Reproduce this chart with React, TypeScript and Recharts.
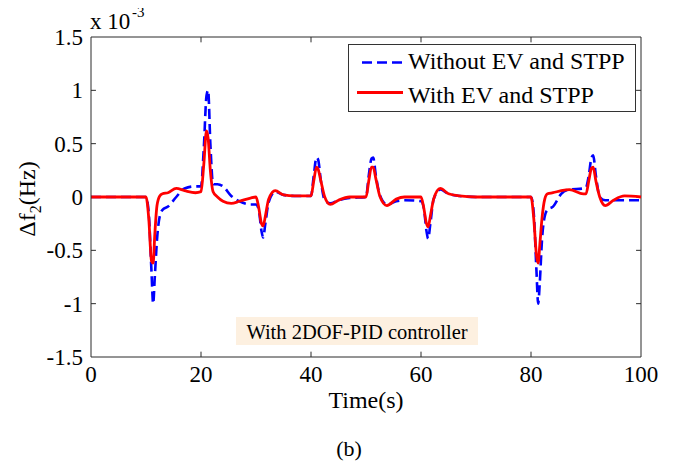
import React from "react";
import { LineChart, Line, XAxis, YAxis, ReferenceLine } from "recharts";

const time = [0, 10, 10.5, 11, 11.3, 11.6, 12, 12.5, 13, 14, 15.5, 17, 19, 20, 20.5, 21, 21.3, 21.7, 22.2, 23, 24, 25.5, 27, 29, 30, 30.5, 31, 31.3, 31.7, 32.3, 33.5, 35, 37, 40, 40.5, 41, 41.3, 41.8, 42.5, 43.5, 45, 47, 50, 50.5, 51, 51.3, 51.8, 52.5, 53.8, 55.5, 57, 60, 60.5, 61, 61.3, 61.7, 62.3, 63.5, 65, 67, 70, 80, 80.5, 81, 81.3, 81.6, 82, 82.5, 83, 84, 85.5, 87, 89.5, 90, 90.5, 91, 91.3, 91.8, 92.5, 93.5, 95, 97, 100];

const withEV = [0, 0, -0.2, -0.6, -0.62, -0.35, -0.08, 0.01, 0.03, 0.04, 0.08, 0.06, 0.04, 0.05, 0.3, 0.62, 0.55, 0.25, 0.05, 0, -0.04, -0.06, -0.04, -0.01, 0, -0.1, -0.25, -0.27, -0.18, -0.02, 0.06, 0.02, 0.01, 0.01, 0.15, 0.28, 0.26, 0.15, 0, -0.07, -0.03, 0, 0, 0.15, 0.28, 0.28, 0.17, 0.01, -0.08, -0.02, 0, 0, -0.1, -0.25, -0.28, -0.18, -0.02, 0.08, 0.03, 0.01, 0, 0, -0.2, -0.55, -0.62, -0.45, -0.2, -0.02, 0.03, 0.04, 0.06, 0.07, 0.03, 0.03, 0.15, 0.27, 0.28, 0.15, 0, -0.08, -0.03, 0.01, 0];

const withoutEV = [0, 0, -0.15, -0.7, -1.0, -0.75, -0.4, -0.18, -0.12, -0.09, 0.0, 0.08, 0.1, 0.1, 0.45, 0.95, 1.0, 0.5, 0.12, 0.12, 0.1, 0.01, -0.04, -0.07, -0.07, -0.12, -0.32, -0.38, -0.25, -0.05, 0.05, 0.02, 0.01, 0.01, 0.2, 0.37, 0.35, 0.15, -0.03, -0.06, -0.03, -0.01, 0, 0.2, 0.36, 0.37, 0.2, 0.02, -0.07, -0.04, -0.03, -0.04, -0.1, -0.32, -0.39, -0.25, -0.02, 0.07, 0.03, 0.01, 0, 0, -0.15, -0.7, -1.0, -0.8, -0.4, -0.18, -0.12, -0.09, 0.03, 0.07, 0.08, 0.09, 0.2, 0.37, 0.39, 0.2, 0, -0.03, -0.03, -0.03, -0.03];

const xTicks = [0, 20, 40, 60, 80, 100];
const yTicks = [-1.5, -1, -0.5, 0, 0.5, 1, 1.5];

const seriesNames = ["Without EV and STPP", "With EV and STPP"];

const data = time.map((t, i) => ({ t, a: withoutEV[i], b: withEV[i] }));

const FONT = "Liberation Serif, Times New Roman, Times, DejaVu Serif, serif";
const AXIS = "#2b2b2b";
const tstyle = { fontFamily: FONT };

export default function App() {
  return (
    <div style={{ position: "relative", width: 663, height: 454, fontFamily: FONT }}>
      <LineChart
        width={663}
        height={454}
        data={data}
        margin={{ top: 29, right: 30, left: 0, bottom: 65 }}
        style={tstyle}
      >
        <XAxis
          dataKey="t"
          type="number"
          domain={[0, 100]}
          ticks={xTicks}
          tickLine={false}
          axisLine={{ stroke: AXIS }}
          tick={{ fill: "#000", fontSize: 23, fontFamily: FONT, style: tstyle }}
          tickMargin={3}
          height={40}
          interval={0}
        />
        <YAxis
          type="number"
          domain={[-1.5, 1.5]}
          ticks={yTicks}
          tickLine={false}
          axisLine={{ stroke: AXIS }}
          tick={{ fill: "#000", fontSize: 23, fontFamily: FONT, style: tstyle }}
          width={83}
          interval={0}
        />
        <ReferenceLine y={1.5} stroke={AXIS} />
        <ReferenceLine x={100} stroke={AXIS} />
        {xTicks.slice(1, -1).map((v) => (
          <ReferenceLine key={"xb" + v} segment={[{ x: v, y: -1.5 }, { x: v, y: -1.45 }]} stroke={AXIS} />
        ))}
        {xTicks.slice(1, -1).map((v) => (
          <ReferenceLine key={"xt" + v} segment={[{ x: v, y: 1.5 }, { x: v, y: 1.45 }]} stroke={AXIS} />
        ))}
        {yTicks.slice(1, -1).map((v) => (
          <ReferenceLine key={"yl" + v} segment={[{ x: 0, y: v }, { x: 0.9, y: v }]} stroke={AXIS} />
        ))}
        {yTicks.slice(1, -1).map((v) => (
          <ReferenceLine key={"yr" + v} segment={[{ x: 100, y: v }, { x: 99.1, y: v }]} stroke={AXIS} />
        ))}
        <Line
          type="monotone"
          dataKey="a"
          name={seriesNames[0]}
          stroke="#0000ff"
          strokeWidth={2.6}
          strokeDasharray="10 5"
          dot={false}
          isAnimationActive={false}
        />
        <Line
          type="monotone"
          dataKey="b"
          name={seriesNames[1]}
          stroke="#ff0000"
          strokeWidth={2.8}
          dot={false}
          isAnimationActive={false}
        />
      </LineChart>

      <svg
        width={663}
        height={454}
        style={{ position: "absolute", left: 0, top: 0, pointerEvents: "none", overflow: "visible", fontFamily: FONT }}
      >
        <text x={82} y={21} fontSize={23} style={tstyle} fill="#000">x 10</text>
        <text x={124} y={9} fontSize={15} style={tstyle} fill="#000">-3</text>
        <text
          transform="translate(27,191) rotate(-90)"
          textAnchor="middle"
          fontSize={24}
          style={tstyle}
          fill="#000"
        >
          Δf<tspan fontSize={16} dy={6}>2</tspan><tspan dy={-6}>(Hz)</tspan>
        </text>
        <text x={358} y={400} textAnchor="middle" fontSize={24} style={tstyle} fill="#000">Time(s)</text>
        <text x={341} y={448} textAnchor="middle" fontSize={22} style={tstyle} fill="#000">(b)</text>

        <rect x={228} y={309} width={242} height={28} fill="#fdf0e0" />
        <text x={349} y={331} textAnchor="middle" fontSize={20.5} style={tstyle} fill="#000">With 2DOF-PID controller</text>

        <rect x={340.5} y={36.5} width={287} height={67} fill="#fff" stroke="#333" strokeWidth={1} />
        <line x1={354} y1={54.5} x2={395} y2={54.5} stroke="#0000ff" strokeWidth={2.6} strokeDasharray="10 5" />
        <line x1={349} y1={84.5} x2={395} y2={84.5} stroke="#ff0000" strokeWidth={2.8} />
        <text x={400} y={61} fontSize={24} style={tstyle} fill="#000">{seriesNames[0]}</text>
        <text x={400} y={95} fontSize={24} style={tstyle} fill="#000">{seriesNames[1]}</text>
      </svg>
    </div>
  );
}
